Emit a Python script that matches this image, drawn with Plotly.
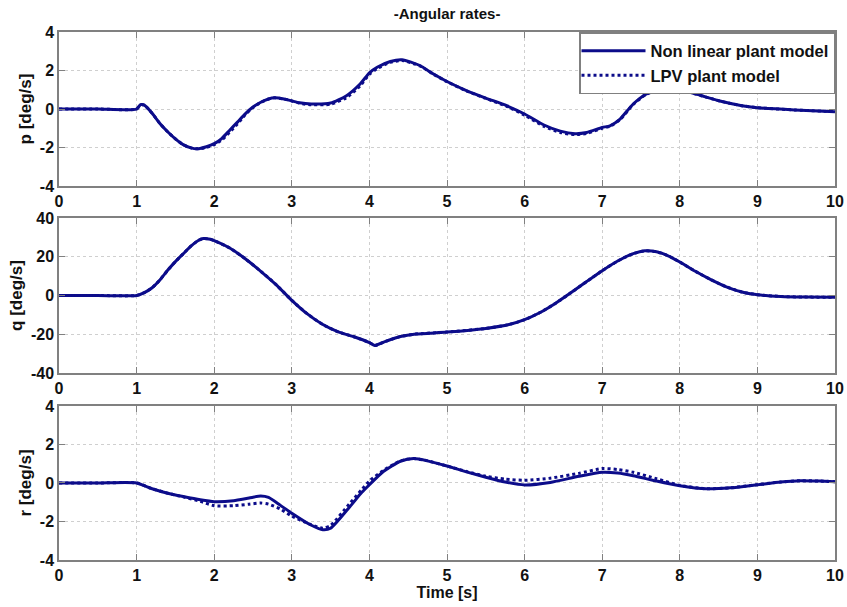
import plotly.graph_objects as go
from plotly.subplots import make_subplots

# ---------------- data ----------------
p_time = [0, 0.5, 1.0, 1.05, 1.1, 1.2, 1.3, 1.4, 1.5, 1.6, 1.7, 1.78, 1.9, 2.0, 2.1, 2.2, 2.3, 2.4,
          2.5, 2.6, 2.7, 2.78, 2.9, 3.0, 3.1, 3.25, 3.5, 3.7, 3.88, 4.0, 4.1, 4.27, 4.42, 4.65,
          4.82, 5.0, 5.25, 5.5, 5.77, 6.0, 6.25, 6.46, 6.65, 6.8, 7.0, 7.1, 7.23, 7.4, 7.57,
          7.75, 7.88, 8.0, 8.27, 8.53, 8.8, 9.0, 9.48, 10.0]
p_nonlinear = [0, 0, 0, 0.23, 0.2, -0.22, -0.75, -1.18, -1.55, -1.85, -2.02, -2.07, -1.96, -1.8,
               -1.52, -1.1, -0.68, -0.25, 0.1, 0.35, 0.52, 0.58, 0.52, 0.42, 0.32, 0.26, 0.31,
               0.68, 1.3, 1.88, 2.17, 2.47, 2.56, 2.26, 1.83, 1.43, 0.96, 0.57, 0.17, -0.26,
               -0.83, -1.15, -1.28, -1.22, -0.96, -0.87, -0.52, 0.26, 0.78, 1.04, 1.1, 1.01,
               0.7, 0.4, 0.17, 0.07, -0.05, -0.14]
p_lpv = [0, 0, 0, 0.23, 0.2, -0.22, -0.75, -1.18, -1.55, -1.85, -2.02, -2.07, -2.0, -1.85,
         -1.6, -1.2, -0.78, -0.3, 0.08, 0.34, 0.52, 0.58, 0.52, 0.42, 0.3, 0.22, 0.25,
         0.58, 1.2, 1.8, 2.1, 2.42, 2.52, 2.24, 1.82, 1.42, 0.94, 0.55, 0.14, -0.32,
         -0.9, -1.22, -1.33, -1.27, -1.0, -0.9, -0.55, 0.24, 0.77, 1.04, 1.1, 1.01,
         0.7, 0.4, 0.17, 0.07, -0.05, -0.14]

q_time = [0, 0.5, 1.0, 1.1, 1.2, 1.3, 1.4, 1.5, 1.6, 1.7, 1.8, 1.86, 1.95, 2.0, 2.2, 2.4, 2.6,
          2.8, 3.0, 3.2, 3.4, 3.6, 3.8, 4.0, 4.07, 4.2, 4.4, 4.6, 5.0, 5.5, 5.8, 6.0, 6.2, 6.4,
          6.6, 6.8, 7.0, 7.2, 7.4, 7.55, 7.7, 7.85, 8.0, 8.2, 8.4, 8.6, 8.8, 9.0, 9.3, 9.6, 10.0]
q_nonlinear = [0, 0, 0, 1.5, 4, 8, 13, 17.5, 21.5, 25.5, 28.5, 29.4, 29.0, 28.3, 24.5, 19,
               12.5, 5.5, -2.5, -9.5, -15, -18.8, -21.3, -24.3, -25.8, -23.8, -21.2, -19.9,
               -18.9, -17, -15, -12.5, -8.8, -4, 1.5, 7.2, 12.8, 17.8, 21.6, 23.1, 22.6, 20.5,
               17.3, 12.5, 8.2, 4.5, 1.8, 0.4, -0.5, -0.8, -0.9]
q_lpv = [0, 0, 0, 1.5, 4, 8, 13, 17.5, 21.5, 25.5, 28.5, 29.4, 29.0, 28.3, 24.5, 19,
         12.5, 5.5, -2.5, -9.5, -15, -18.8, -21.3, -24.3, -25.8, -23.8, -21.2, -19.9,
         -18.9, -17, -15, -12.5, -8.8, -4, 1.5, 7.2, 12.8, 17.8, 21.6, 23.1, 22.6, 20.5,
         17.3, 12.5, 8.2, 4.5, 1.8, 0.4, -0.5, -0.8, -0.9]

r_time = [0, 0.5, 1.0, 1.2, 1.4, 1.6, 1.82, 2.0, 2.25, 2.45, 2.6, 2.7, 2.85, 3.0, 3.24, 3.4,
          3.5, 3.75, 3.9, 4.0, 4.18, 4.4, 4.57, 4.75, 5.0, 5.25, 5.5, 5.75, 6.0, 6.33, 6.7,
          7.0, 7.2, 7.4, 7.7, 8.0, 8.34, 8.65, 9.0, 9.3, 9.55, 9.8, 10.0]
r_nonlinear = [0, 0, 0, -0.3, -0.53, -0.7, -0.87, -0.97, -0.92, -0.78, -0.68, -0.75, -1.15,
               -1.57, -2.17, -2.43, -2.35, -1.22, -0.5, -0.09, 0.6, 1.13, 1.27, 1.15, 0.88,
               0.58, 0.3, 0.05, -0.1, 0.03, 0.35, 0.56, 0.52, 0.38, 0.1, -0.14, -0.3, -0.25,
               -0.09, 0.05, 0.12, 0.1, 0.07]
r_lpv = [0, 0, 0, -0.3, -0.53, -0.72, -0.95, -1.18, -1.18, -1.1, -1.04, -1.1, -1.35,
         -1.72, -2.15, -2.35, -2.2, -1.05, -0.35, 0.1, 0.65, 1.15, 1.27, 1.15, 0.88,
         0.6, 0.35, 0.2, 0.14, 0.25, 0.5, 0.75, 0.7, 0.56, 0.22, -0.12, -0.3, -0.25,
         -0.09, 0.05, 0.12, 0.1, 0.07]

x_ticks = list(range(0, 11))
x_labels = [str(v) for v in x_ticks]
p_ticks = [-4, -2, 0, 2, 4]
p_labels = ["-4", "-2", "0", "2", "4"]
q_ticks = [-40, -20, 0, 20, 40]
q_labels = ["-40", "-20", "0", "20", "40"]
r_ticks = [-4, -2, 0, 2, 4]
r_labels = ["-4", "-2", "0", "2", "4"]

# ---------------- figure ----------------
line_color = "#0c0c8a"
axis_color = "#808080"
grid_color = "#cfcfcf"
font_family = "Liberation Sans, Arial, sans-serif"
txt = "#111111"

fig = make_subplots(rows=3, cols=1)

panels = [
    (p_time, p_nonlinear, p_lpv, "p [deg/s]", [-4, 4], p_ticks, p_labels),
    (q_time, q_nonlinear, q_lpv, "q [deg/s]", [-40, 40], q_ticks, q_labels),
    (r_time, r_nonlinear, r_lpv, "r [deg/s]", [-4, 4], r_ticks, r_labels),
]

for i, (t, nl, lpv, ylab, yr, yt, yl) in enumerate(panels, start=1):
    fig.add_trace(go.Scatter(x=t, y=nl, mode="lines", name="Non linear plant model",
                             line=dict(color=line_color, width=3, shape="spline", smoothing=0.6),
                             showlegend=(i == 1)), row=i, col=1)
    fig.add_trace(go.Scatter(x=t, y=lpv, mode="lines", name="LPV plant model",
                             line=dict(color=line_color, width=3, dash="dot", shape="spline",
                                       smoothing=0.6),
                             showlegend=(i == 1)), row=i, col=1)
    fig.update_xaxes(range=[0, 10], tickvals=x_ticks, ticktext=x_labels, row=i, col=1)
    fig.update_yaxes(range=yr, tickvals=yt, ticktext=yl, row=i, col=1,
                     title=dict(text=ylab, standoff=4,
                                font=dict(family=font_family, size=17, color=txt, weight="bold")))

domains = [[0.7083, 1.0], [0.3542, 0.6477], [0.0, 0.2917]]
for i, d in enumerate(domains, start=1):
    fig.update_yaxes(domain=d, row=i, col=1)

common = dict(showline=True, linecolor=axis_color, linewidth=1.5, mirror="ticks",
              ticks="inside", ticklen=6, tickcolor=axis_color, tickwidth=1,
              showgrid=True, gridcolor=grid_color, griddash="dot", gridwidth=1,
              zeroline=False, automargin=False,
              tickfont=dict(family=font_family, size=16, color=txt, weight="bold"))
fig.update_xaxes(**common)
fig.update_yaxes(**common)

fig.update_xaxes(title=dict(text="Time [s]", standoff=2,
                            font=dict(family=font_family, size=16, color=txt, weight="bold")),
                 row=3, col=1)

fig.update_layout(
    width=847, height=607,
    margin=dict(l=59, r=12, t=32, b=47),
    paper_bgcolor="white", plot_bgcolor="white",
    title=dict(text="-Angular rates-", x=0.5278, xanchor="center", y=1 - 14 / 607,
               yanchor="middle",
               font=dict(family="Liberation Sans Narrow, Arial Narrow, Liberation Sans, sans-serif",
                         size=15, color=txt, weight="bold")),
    legend=dict(x=1, y=1, xanchor="right", yanchor="top", xref="paper", yref="paper",
                bgcolor="white", bordercolor=axis_color, borderwidth=1.5,
                itemwidth=64, tracegroupgap=0, indentation=-4,
                font=dict(family=font_family, size=16.5, color=txt, weight="bold")),
    showlegend=True,
)

fig.write_html("out.html")
